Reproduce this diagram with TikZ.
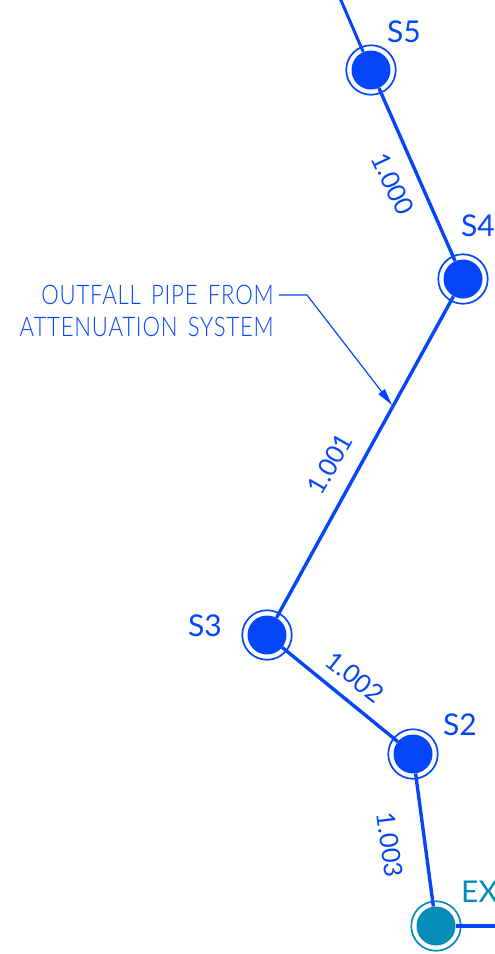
\documentclass[tikz,border=0pt]{standalone}
\usepackage{fontspec}
\usetikzlibrary{arrows.meta}
\setsansfont{Lato Light}
\newfontfamily\lblfont{Lato}
\newfontfamily\cadfont[FakeStretch=0.82,LetterSpace=3,WordSpace=1.5]{Lato Light}
\definecolor{pipeblue}{RGB}{5,70,250}
\definecolor{extblue}{RGB}{5,140,185}
\tikzset{x=1pt,y=-1pt,
  disc/.style={circle,fill=#1,draw=none,minimum size=39pt,inner sep=0pt},
  ring/.style={circle,draw=#1,line width=1.7pt,minimum size=49.5pt,inner sep=0pt},
  pipe/.style={draw=pipeblue,line width=3.4pt},
  lbl/.style={text=pipeblue,font=\lblfont\fontsize{30}{30}\selectfont,inner sep=0pt},
  chain/.style={text=pipeblue,font=\lblfont\fontsize{25.5}{25.5}\selectfont,inner sep=0pt},
  note/.style={text=pipeblue,font=\cadfont\fontsize{27}{27}\selectfont,inner sep=0pt,anchor=east},
  leader/.style={draw=pipeblue,line width=1.2pt}}
\begin{document}
\begin{tikzpicture}
\useasboundingbox (0,0) rectangle (495,954);
\clip (0,0) rectangle (495,954);
\node[disc=pipeblue] (s5) at (371,70) {};
\node[disc=pipeblue] (s4) at (463,279) {};
\node[disc=pipeblue] (s3) at (267,635) {};
\node[disc=pipeblue] (s2) at (413,754) {};
\node[disc=extblue] (ex) at (436,926) {};
\node[ring=pipeblue] (r5) at (s5) {};
\node[ring=pipeblue] (r4) at (s4) {};
\node[ring=pipeblue] (r3) at (s3) {};
\node[ring=pipeblue] (r2) at (s2) {};
\node[ring=extblue] (rx) at (ex) {};
\coordinate (top) at (340,-2);
\coordinate (east) at (500,926);
\coordinate (bend) at (307,295);
\coordinate (start) at (279,295);
\coordinate (tip) at (392,405);
\draw[pipe,line width=3pt] (top) -- (s5);
\draw[pipe] (s5) -- (s4);
\draw[pipe] (s4) -- (s3);
\draw[pipe] (s3) -- (s2);
\draw[pipe] (s2) -- (ex);
\draw[pipe] (ex) -- (east);
\node[lbl] (t5) at (404,32) {S5};
\node[lbl] (t4) at (478,226) {S4};
\node[lbl] (t3) at (205,626) {S3};
\node[lbl] (t2) at (460,725) {S2};
\node[lbl,text=extblue,anchor=west] (tx) at (461,892) {EX};
\node[chain,rotate=-65] (c0) at (393,184) {1.000};
\node[chain,rotate=60] (c1) at (330,464) {1.001};
\node[chain,rotate=-38] (c2) at (355,677) {1.002};
\node[chain,rotate=-83] (c3) at (390,845) {1.003};
\node[note] (n1) at (274,295) {OUTFALL PIPE FROM};
\node[note] (n2) at (274,327) {ATTENUATION SYSTEM};
\draw[leader,-{Triangle[length=17pt,width=8pt]}] (start) -- (bend) -- (tip);
\end{tikzpicture}
\end{document}
